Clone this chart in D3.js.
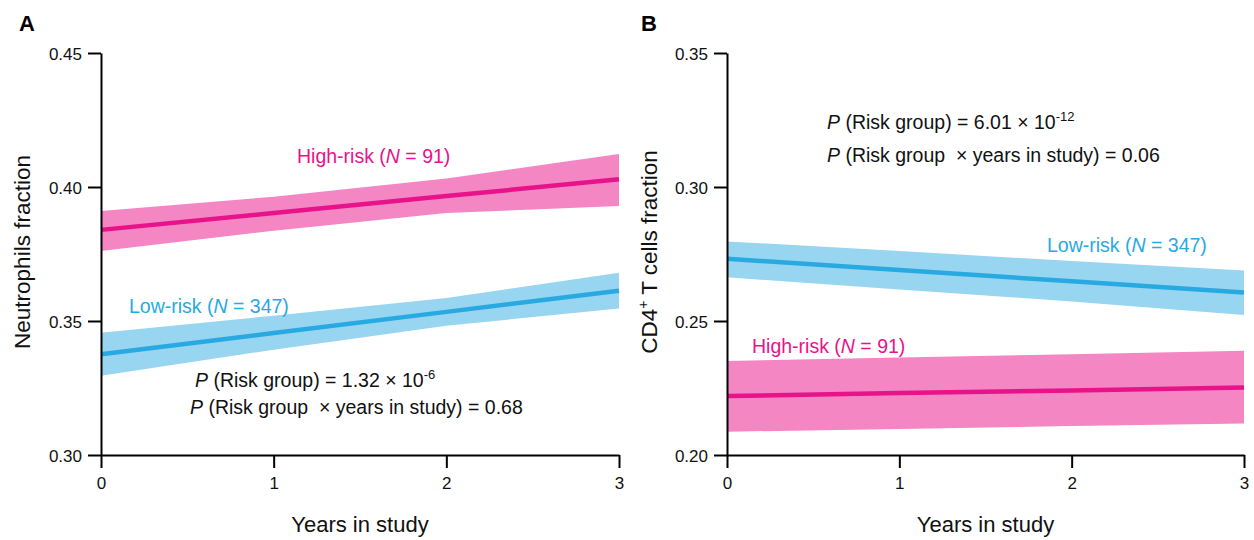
<!DOCTYPE html>
<html><head><meta charset="utf-8">
<script src="https://cdn.jsdelivr.net/npm/d3@7"></script>
<style>body{margin:0;background:#fff}svg{display:block;font-family:"Liberation Sans",Arial,sans-serif}</style>
</head><body>
<svg id="c" width="1254" height="540"></svg>
<script>
// ---- data ----
const years = [0, 1, 2, 3];
const xTicks = [0, 1, 2, 3];
// Panel A: neutrophils fraction
const yTicksA = [0.30, 0.35, 0.40, 0.45];
const aHighFit   = [0.3840, 0.3903, 0.3966, 0.4029];
const aHighUpper = [0.3910, 0.3964, 0.4032, 0.4123];
const aHighLower = [0.3761, 0.3837, 0.3903, 0.3929];
const aLowFit    = [0.3376, 0.3455, 0.3534, 0.3613];
const aLowUpper  = [0.3456, 0.3520, 0.3586, 0.3680];
const aLowLower  = [0.3296, 0.3393, 0.3482, 0.3547];
// Panel B: CD4+ T cells fraction
const yTicksB = [0.20, 0.25, 0.30, 0.35];
const bLowFit    = [0.2732, 0.2690, 0.2648, 0.2606];
const bLowUpper  = [0.2797, 0.2761, 0.2724, 0.2688];
const bLowLower  = [0.2663, 0.2618, 0.2573, 0.2522];
const bHighFit   = [0.2220, 0.2231, 0.2241, 0.2252];
const bHighUpper = [0.2351, 0.2364, 0.2376, 0.2389];
const bHighLower = [0.2087, 0.2097, 0.2108, 0.2118];

const PINK = "#e8128a", PINK_BAND = "#f386c3";
const BLUE = "#28a9e1", BLUE_BAND = "#98d5f0";

const svg = d3.select("#c");

function panel(o) {
  const x = d3.scaleLinear().domain([0, 3]).range(o.xr);
  const y = d3.scaleLinear().domain(o.yd).range([455, 53]);
  const g = svg.append("g");
  const area = (up, lo) => d3.area().x((d, i) => x(years[i])).y0((d, i) => y(lo[i])).y1((d, i) => y(up[i]));
  const line = fit => d3.line().x((d, i) => x(years[i])).y((d, i) => y(fit[i]));
  o.series.forEach(s => {
    g.append("path").datum(years).attr("d", area(s.up, s.lo)).attr("fill", s.band);
  });
  o.series.forEach(s => {
    g.append("path").datum(years).attr("d", line(s.fit)).attr("fill", "none")
      .attr("stroke", s.color).attr("stroke-width", 4.5);
  });
  const ya = g.append("g").attr("transform", `translate(${o.xr[0]},0)`)
    .call(d3.axisLeft(y).tickValues(o.yt).tickFormat(d3.format(".2f")).tickSize(13).tickSizeOuter(0).tickPadding(6));
  const xa = g.append("g").attr("transform", `translate(0,455)`)
    .call(d3.axisBottom(x).tickValues(xTicks).tickFormat(d3.format("d")).tickSize(13).tickSizeOuter(0).tickPadding(18));
  [ya, xa].forEach(a => {
    a.selectAll("path,line").attr("stroke", "#000").attr("stroke-width", 2);
    a.selectAll("text").attr("font-size", 17).attr("fill", "#111").attr("font-family", '"Liberation Sans",Arial,sans-serif');
  });
  xa.selectAll("text").attr("dy", "0.2em");
  ya.selectAll("text").attr("dy", "0.36em");
  // axis titles
  g.append("text").attr("x", (o.xr[0] + o.xr[1]) / 2).attr("y", 532).attr("text-anchor", "middle")
    .attr("font-size", 22).attr("fill", "#111").text("Years in study");
  const yl = g.append("text").attr("transform", `translate(${o.ylx},252) rotate(-90)`)
    .attr("text-anchor", "middle").attr("font-size", 22.5).attr("fill", "#111");
  o.ylab(yl);
  // panel letter
  g.append("text").attr("x", o.letterX).attr("y", 31).attr("font-size", 22).attr("font-weight", "bold").text(o.letter);
  // group labels
  o.labels.forEach(l => {
    const t = g.append("text").attr("x", l.x).attr("y", l.y).attr("font-size", 19.5).attr("fill", l.color);
    t.append("tspan").text(l.name + " (");
    t.append("tspan").attr("font-style", "italic").text("N");
    t.append("tspan").text(" = " + l.n + ")");
  });
  // p-values
  o.pv.forEach(p => {
    const t = g.append("text").attr("x", p.x).attr("y", p.y).attr("font-size", 19.5).attr("fill", "#111");
    t.append("tspan").attr("font-style", "italic").text("P");
    t.append("tspan").text(p.text);
    if (p.sup) t.append("tspan").attr("font-size", 13).attr("dy", -8).text(p.sup);
  });
}

panel({
  xr: [101, 619], yd: [0.30, 0.45], yt: yTicksA, ylx: 30, letter: "A", letterX: 19,
  series: [
    {fit: aHighFit, up: aHighUpper, lo: aHighLower, color: PINK, band: PINK_BAND},
    {fit: aLowFit, up: aLowUpper, lo: aLowLower, color: BLUE, band: BLUE_BAND}
  ],
  ylab: t => t.text("Neutrophils fraction"),
  labels: [
    {name: "High-risk", n: 91, x: 297, y: 163, color: PINK},
    {name: "Low-risk", n: 347, x: 129, y: 313, color: BLUE}
  ],
  pv: [
    {x: 195, y: 387, text: " (Risk group) = 1.32 \u00d7 10", sup: "-6"},
    {x: 190, y: 414, text: " (Risk group \u00a0\u00d7 years in study) = 0.68"}
  ]
});

panel({
  xr: [727, 1244], yd: [0.20, 0.35], yt: yTicksB, ylx: 657, letter: "B", letterX: 641,
  series: [
    {fit: bLowFit, up: bLowUpper, lo: bLowLower, color: BLUE, band: BLUE_BAND},
    {fit: bHighFit, up: bHighUpper, lo: bHighLower, color: PINK, band: PINK_BAND}
  ],
  ylab: t => {
    t.append("tspan").text("CD4");
    t.append("tspan").attr("font-size", 14).attr("dy", -9).text("+");
    t.append("tspan").attr("dy", 9).text(" T cells fraction");
  },
  labels: [
    {name: "Low-risk", n: 347, x: 1047, y: 252, color: BLUE},
    {name: "High-risk", n: 91, x: 752, y: 353, color: PINK}
  ],
  pv: [
    {x: 827, y: 129, text: " (Risk group) = 6.01 \u00d7 10", sup: "-12"},
    {x: 827, y: 162, text: " (Risk group \u00a0\u00d7 years in study) = 0.06"}
  ]
});
</script>
</body></html>
